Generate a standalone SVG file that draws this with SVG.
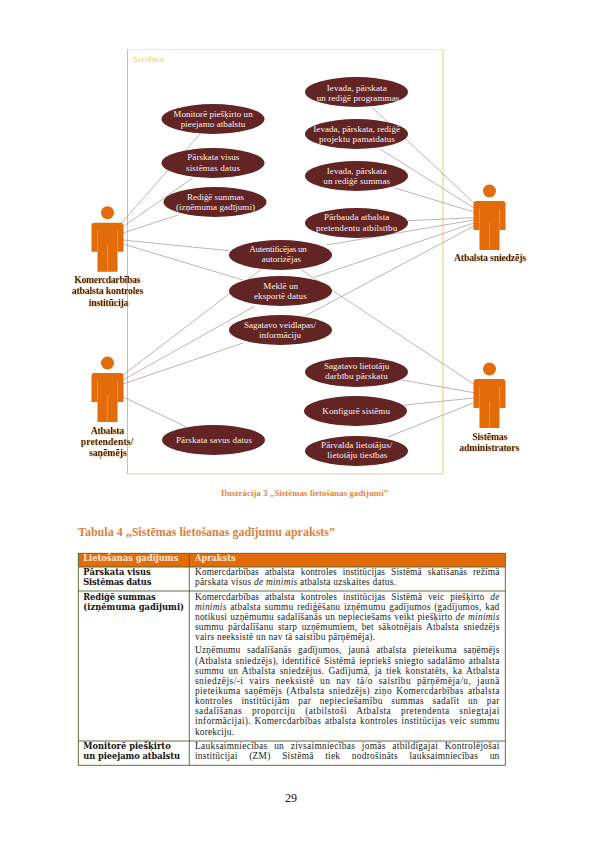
<svg xmlns="http://www.w3.org/2000/svg" width="596" height="842" viewBox="0 0 596 842">
<style>
text{font-family:"Liberation Serif","Times New Roman",serif}
.uc{fill:#632523}
.ut{fill:#f6eeee;font-size:9.1px}
.al{fill:#3f1d0e;font-size:9.7px;font-weight:bold;filter:url(#sh)}
.cn{stroke:#9c8a8c;stroke-width:.65;fill:none}
.b{font-size:9.4px;fill:#1c1c1c}
.l{font-size:8.3px;fill:#111;font-weight:bold;font-family:"DejaVu Serif","Liberation Serif",serif}
.h{font-size:8.3px;fill:#fbe8d5;font-weight:bold;font-family:"DejaVu Serif","Liberation Serif",serif}
.tb{stroke:#4f6228;stroke-width:.9;fill:none}
.i{font-style:italic}
</style>
<defs>
<filter id="sh" x="-10%" y="-20%" width="120%" height="140%"><feDropShadow dx=".6" dy=".4" stdDeviation=".25" flood-color="#d9a05c"/></filter>
<g id="actor">
<circle cx="0" cy="-10" r="6.5" fill="#e36c0a"/>
<path d="M-16,3Q-16,0-13,0L13,0Q16,0 16,3L16,29L10,29L10,49L-10,49L-10,29L-16,29Z" fill="#e36c0a"/>
<path d="M-10,8V29M10,8V29M0,22V49" stroke="#f3b27a" stroke-width=".5" fill="none"/>
</g>
</defs>
<rect width="596" height="842" fill="#fff"/>
<g id="system">
<path d="M127.5,49.5H443" stroke="#fbe39a" stroke-width=".9"/>
<path d="M443,49.5V474" stroke="#eecb72" stroke-width="1"/>
<path d="M127.5,49.5V474" stroke="#b3aea8" stroke-width=".8"/>
<path d="M127.5,474H443" stroke="#c6bd9e" stroke-width=".8"/>
<text x="132.7" y="61.7" font-size="9" fill="#f9c85e" textLength="31">Sistēma</text>
</g>
<g id="connectors" class="cn">
<path d="M121.7,222.7L200,134"/>
<path d="M123,226.7L192.7,178"/>
<path d="M123,233L178,215"/>
<path d="M123,240L229,250.7"/>
<path d="M123,244L243,280"/>
<path d="M123,375L261.7,269"/>
<path d="M123,380L255,306"/>
<path d="M123,384L243,343"/>
<path d="M123,397L186,426.7"/>
<path d="M371.7,107L474,203"/>
<path d="M380,149L474,208"/>
<path d="M395,188L474,212"/>
<path d="M408,220.7L474,217.7"/>
<path d="M326.7,245L474,220"/>
<path d="M315,277L474,223"/>
<path d="M305,316L474,226"/>
<path d="M301.7,270L473.5,384"/>
<path d="M401.7,380L474,392.7"/>
<path d="M405,405L474,398"/>
<path d="M388,437L474,402.7"/>
</g>
<g id="uc-monitore"><ellipse class="uc" cx="213" cy="119" rx="51.5" ry="15"/><text class="ut" x="173.3" y="116.7" textLength="79.4">Monitorē piešķirto un</text><text class="ut" x="180.7" y="126.5" textLength="64.6">pieejamo atbalstu</text></g>
<g id="uc-parskata-visus"><ellipse class="uc" cx="213" cy="163" rx="51.5" ry="15"/><text class="ut" x="187.3" y="160.3" textLength="52">Pārskata visus</text><text class="ut" x="186" y="170.7" textLength="54">sistēmas datus</text></g>
<g id="uc-redige"><ellipse class="uc" cx="215" cy="202" rx="51.5" ry="15"/><text class="ut" x="187" y="200" textLength="57">Rediģē summas</text><text class="ut" x="176" y="210" textLength="79">(izņēmuma gadījumi)</text></g>
<g id="uc-autent"><ellipse class="uc" cx="280.5" cy="255" rx="51.5" ry="15"/><text class="ut" x="249.3" y="252" textLength="57.4">Autentificējas un</text><text class="ut" x="261.7" y="262" textLength="39.3">autorizējas</text></g>
<g id="uc-mekle"><ellipse class="uc" cx="280.5" cy="291" rx="51.5" ry="15"/><text class="ut" x="263.3" y="289" textLength="34.7">Meklē un</text><text class="ut" x="254" y="298.5" textLength="52.7">eksportē datus</text></g>
<g id="uc-sagatavo-veidlapas"><ellipse class="uc" cx="280.5" cy="330" rx="51.5" ry="15"/><text class="ut" x="244" y="327.7" textLength="72">Sagatavo veidlapas/</text><text class="ut" x="259" y="337.7" textLength="42">informāciju</text></g>
<g id="uc-parskata-savus"><ellipse class="uc" cx="213.5" cy="440" rx="51.5" ry="15"/><text class="ut" x="176" y="442.7" textLength="76">Pārskata savus datus</text></g>
<g id="uc-programmas"><ellipse class="uc" cx="356.5" cy="92" rx="51.5" ry="15"/><text class="ut" x="326.7" y="90.7" textLength="60">Ievada, pārskata</text><text class="ut" x="316.7" y="100.7" textLength="82.6">un rediģē programmas</text></g>
<g id="uc-projektu"><ellipse class="uc" cx="356.5" cy="134" rx="51.5" ry="15"/><text class="ut" x="313.3" y="132" textLength="86.7">Ievada, pārskata, rediģē</text><text class="ut" x="319" y="142" textLength="76">projektu pamatdatus</text></g>
<g id="uc-summas"><ellipse class="uc" cx="356.5" cy="176" rx="51.5" ry="15"/><text class="ut" x="326.7" y="173.7" textLength="60">Ievada, pārskata</text><text class="ut" x="323.3" y="183.7" textLength="66.7">un rediģē summas</text></g>
<g id="uc-parbauda"><ellipse class="uc" cx="356.5" cy="223" rx="51.5" ry="15"/><text class="ut" x="324" y="220" textLength="65.3">Pārbauda atbalsta</text><text class="ut" x="316" y="230.7" textLength="81.3">pretendentu atbilstību</text></g>
<g id="uc-sagatavo-lietotaju"><ellipse class="uc" cx="356.5" cy="372" rx="51.5" ry="15"/><text class="ut" x="324" y="369.3" textLength="65.3">Sagatavo lietotāju</text><text class="ut" x="325" y="379.3" textLength="62.7">darbību pārskatu</text></g>
<g id="uc-konfigure"><ellipse class="uc" cx="355.5" cy="411" rx="51.5" ry="15"/><text class="ut" x="322.3" y="414" textLength="67.7">Konfigurē sistēmu</text></g>
<g id="uc-parvalda"><ellipse class="uc" cx="356.5" cy="451" rx="51.5" ry="15"/><text class="ut" x="321" y="448.3" textLength="71.3">Pārvalda lietotājus/</text><text class="ut" x="327.3" y="457.5" textLength="60">lietotāju tiesības</text></g>
<g id="actor-kontroles"><use href="#actor" transform="translate(107.5,222.7)"/><text class="al" x="74.3" y="283.3" textLength="66">Komercdarbības</text><text class="al" x="71.7" y="294.3" textLength="71.6">atbalsta kontroles</text><text class="al" x="88.7" y="305.7" textLength="39.6">institūcija</text></g>
<g id="actor-pretendents"><use href="#actor" transform="translate(107.5,373)"/><text class="al" x="90.7" y="433.7" textLength="33.3">Atbalsta</text><text class="al" x="80.7" y="445.3" textLength="52.6">pretendents/</text><text class="al" x="89" y="456" textLength="37.7">saņēmējs</text></g>
<g id="actor-sniedzejs"><use href="#actor" transform="translate(489.5,201)"/><text class="al" x="454" y="260.7" textLength="72">Atbalsta sniedzējs</text></g>
<g id="actor-admin"><use href="#actor" transform="translate(489.5,379)"/><text class="al" x="472.3" y="440" textLength="35">Sistēmas</text><text class="al" x="459.3" y="450.7" textLength="60">administrators</text></g>
<text id="caption" x="221" y="495.7" font-size="8.6" font-weight="bold" fill="#e5813a" textLength="167">Ilustrācija 3 „Sistēmas lietošanas gadījumi”</text>
<text id="table-title" x="78" y="535.7" font-size="12" font-weight="bold" fill="#d9813f" textLength="257">Tabula 4 „Sistēmas lietošanas gadījumu apraksts”</text>
<g id="table">
<rect x="78.3" y="553.3" width="427" height="13.7" fill="#e36c0a"/>
<rect class="tb" x="78.3" y="553.3" width="427" height="212"/>
<path class="tb" d="M78.3,567H505.3M78.3,591H505.3M78.3,741H505.3M189.3,553.3V765.3"/>
<text class="h" x="83.3" y="560.9" textLength="95">Lietošanas gadījums</text>
<text class="h" x="195" y="560.9" textLength="40.7">Apraksts</text>
<text class="l" x="83.3" y="574.5" textLength="67.4">Pārskata visus</text>
<text class="l" x="83.3" y="584.5" textLength="68">Sistēmas datus</text>
<text class="l" x="83.3" y="599.5" textLength="72.4">Rediģē summas</text>
<text class="l" x="83.3" y="609.5" textLength="100.7">(izņēmuma gadījumi)</text>
<text class="l" x="83.3" y="749" textLength="87.4">Monitorē piešķirto</text>
<text class="l" x="83.3" y="759" textLength="96.7">un pieejamo atbalstu</text>
<text class="b" x="195" y="575" textLength="304.3" word-spacing="3.5">Komercdarbības atbalsta kontroles institūcijas Sistēmā skatīšanās režīmā</text>
<text class="b" x="195" y="585" textLength="201">pārskata visus <tspan class="i">de minimis</tspan> atbalsta uzskaites datus.</text>
<text class="b" x="195" y="600" textLength="304.3" word-spacing="3.5">Komercdarbības atbalsta kontroles institūcijas Sistēmā veic piešķirto <tspan class="i">de</tspan></text>
<text class="b" x="195" y="610" textLength="304.3" word-spacing="1"><tspan class="i">minimis</tspan> atbalsta summu rediģēšanu izņēmumu gadījumos (gadījumos, kad</text>
<text class="b" x="195" y="620" textLength="304.3" word-spacing=".5">notikusi uzņēmumu sadalīšanās un nepieciešams veikt piešķirto <tspan class="i">de minimis</tspan></text>
<text class="b" x="195" y="630" textLength="304.3" word-spacing="2">summu pārdalīšanu starp uzņēmumiem, bet sākotnējais Atbalsta sniedzējs</text>
<text class="b" x="195" y="639.5" textLength="180">vairs neeksistē un nav tā saistību pārņēmēja).</text>
<text class="b" x="195" y="653" textLength="304.3" word-spacing="4">Uzņēmumu sadalīšanās gadījumos, jaunā atbalsta pieteikuma saņēmējs</text>
<text class="b" x="195" y="663.5" textLength="304.3" word-spacing="1">(Atbalsta sniedzējs), identificē Sistēmā iepriekš sniegto sadalāmo atbalsta</text>
<text class="b" x="195" y="673.5" textLength="304.3" word-spacing="1.5">summu un Atbalsta sniedzējus. Gadījumā, ja tiek konstatēts, ka Atbalsta</text>
<text class="b" x="195" y="683.5" textLength="304.3" word-spacing="3">sniedzējs/-i vairs neeksistē un nav tā/o saistību pārņēmēja/u, jaunā</text>
<text class="b" x="195" y="694" textLength="304.3" word-spacing="1.5">pieteikuma saņēmējs (Atbalsta sniedzējs) ziņo Komercdarbības atbalsta</text>
<text class="b" x="195" y="704" textLength="304.3" word-spacing="6">kontroles institūcijām par nepieciešamību summas sadalīt un par</text>
<text class="b" x="195" y="714" textLength="304.3" word-spacing="7">sadalīšanas proporciju (atbilstoši Atbalsta pretendenta sniegtajai</text>
<text class="b" x="195" y="724" textLength="304.3" word-spacing="1">informācijai). Komercdarbības atbalsta kontroles institūcijas veic summu</text>
<text class="b" x="195" y="735" textLength="39">korekciju.</text>
<text class="b" x="195" y="749" textLength="304.3" word-spacing="4">Lauksaimniecības un zivsaimniecības jomās atbildīgajai Kontrolējošai</text>
<text class="b" x="195" y="759" textLength="304.3" word-spacing="9">institūcijai (ZM) Sistēmā tiek nodrošināts lauksaimniecības un</text>
</g>
<text id="page-number" x="285" y="802" font-size="12" fill="#111">29</text>
</svg>
